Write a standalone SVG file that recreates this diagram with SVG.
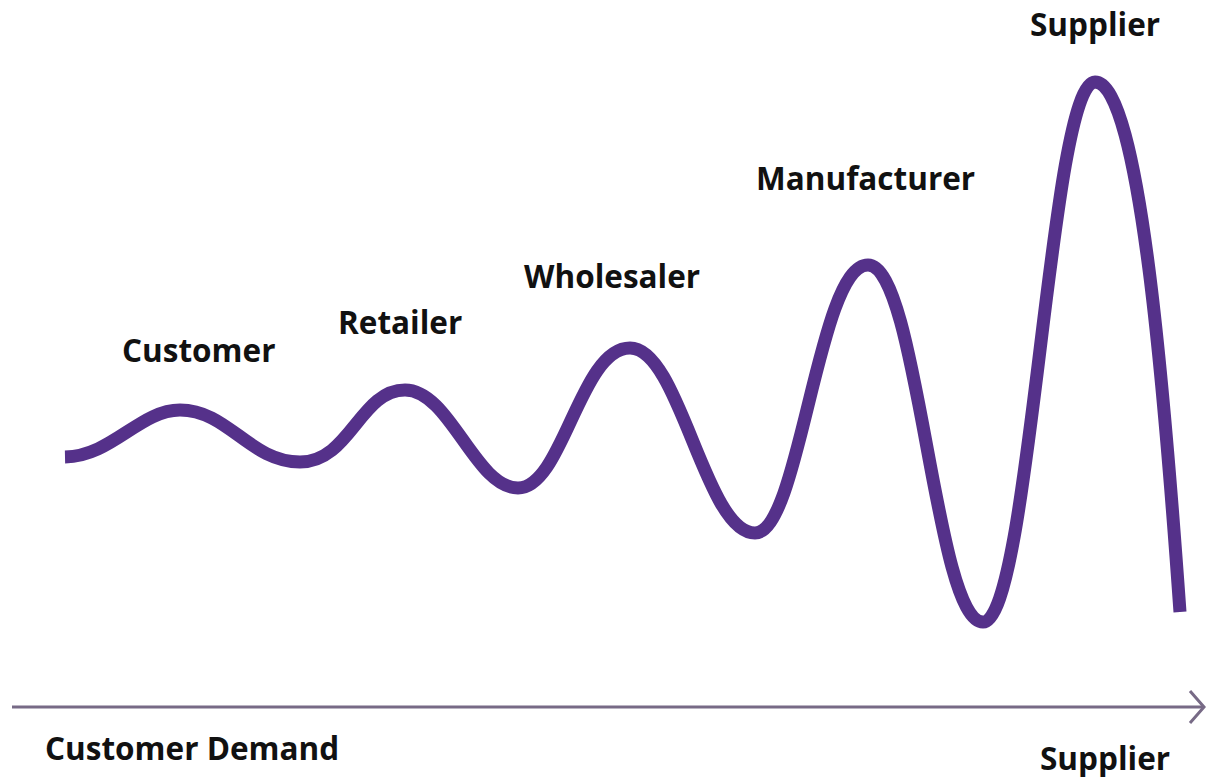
<svg xmlns="http://www.w3.org/2000/svg" width="1206" height="777" viewBox="0 0 1206 777">
<style>
.lbl{font-family:"Open Sans","Liberation Sans",sans-serif;font-weight:700;font-size:31.5px;fill:#111;}
.wave{fill:none;stroke:#55318a;stroke-width:13;stroke-linecap:butt;stroke-linejoin:round;}
.axis{fill:none;stroke:#776a86;stroke-width:3;}
</style>
<rect width="1206" height="777" fill="#ffffff"/>
<g id="connectors">
<path class="wave" d="M65,457 C112,456 140,410 180,410 C228,410 250,462 300,462 C350,462 360,390 405,390 C450,390 475,488 518,488 C563,488 580,348 630,348 C680,348 705,533 755,533 C800,533 818,265 868,265 C918,265 935,622 983,622 C1030,622 1050,82 1095,82 C1140,82 1165,400 1180,612"/>
<path class="axis" d="M12,707 H1203"/>
<path class="axis" d="M1190,691 L1204,707 L1190,723"/>
</g>
<g id="customer"><text class="lbl" x="122" y="362">Customer</text></g>
<g id="retailer"><text class="lbl" x="338" y="334">Retailer</text></g>
<g id="wholesaler"><text class="lbl" x="524" y="288">Wholesaler</text></g>
<g id="manufacturer"><text class="lbl" x="756" y="190">Manufacturer</text></g>
<g id="supplier-top"><text class="lbl" x="1030" y="36">Supplier</text></g>
<g id="customer-demand"><text class="lbl" x="45" y="760">Customer Demand</text></g>
<g id="supplier-bottom"><text class="lbl" x="1040" y="770">Supplier</text></g>
</svg>
